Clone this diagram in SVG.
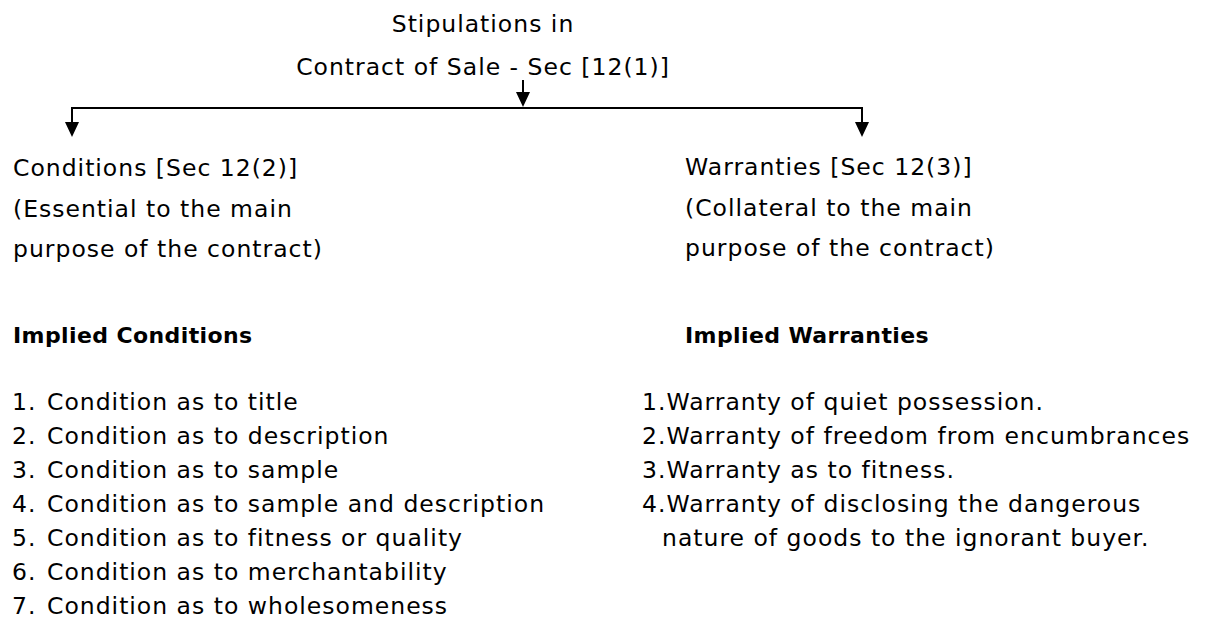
<svg xmlns="http://www.w3.org/2000/svg" width="1213" height="622" viewBox="0 0 1213 622">
<style>
text { font-family: "DejaVu Sans", "Liberation Sans", sans-serif; font-size: 23.5px; letter-spacing: 1px; fill: #000; }
.b { font-weight: bold; font-size: 22px; letter-spacing: 0.4px; }
.ln { stroke: #000; stroke-width: 2; fill: none; }
.hd { fill: #000; }
</style>
<rect width="1213" height="622" fill="#fff"/>
<g id="root">
<text x="483" y="32" text-anchor="middle">Stipulations in</text>
<text x="483" y="75" text-anchor="middle">Contract of Sale - Sec [12(1)]</text>
</g>
<g id="connectors">
<line class="ln" x1="523" y1="80" x2="523" y2="93"/>
<polygon class="hd" points="516,92 530,92 523,107"/>
<polyline class="ln" points="72,123 72,108 862,108 862,123"/>
<polygon class="hd" points="65,122 79,122 72,137"/>
<polygon class="hd" points="855,122 869,122 862,137"/>
</g>
<g id="conditions">
<text x="13" y="176">Conditions [Sec 12(2)]</text>
<text x="13" y="216.5">(Essential to the main</text>
<text x="13" y="257">purpose of the contract)</text>
</g>
<g id="warranties">
<text x="685" y="175">Warranties [Sec 12(3)]</text>
<text x="685" y="215.5">(Collateral to the main</text>
<text x="685" y="256">purpose of the contract)</text>
</g>
<g id="implied-conditions">
<text class="b" x="13" y="343">Implied Conditions</text>
<text x="12" y="410">1.</text><text x="47" y="410">Condition as to title</text>
<text x="12" y="444">2.</text><text x="47" y="444">Condition as to description</text>
<text x="12" y="478">3.</text><text x="47" y="478">Condition as to sample</text>
<text x="12" y="512">4.</text><text x="47" y="512">Condition as to sample and description</text>
<text x="12" y="546">5.</text><text x="47" y="546">Condition as to fitness or quality</text>
<text x="12" y="580">6.</text><text x="47" y="580">Condition as to merchantability</text>
<text x="12" y="614">7.</text><text x="47" y="614">Condition as to wholesomeness</text>
</g>
<g id="implied-warranties">
<text class="b" x="685" y="343">Implied Warranties</text>
<text x="642" y="410">1.Warranty of quiet possession.</text>
<text x="642" y="444">2.Warranty of freedom from encumbrances</text>
<text x="642" y="478">3.Warranty as to fitness.</text>
<text x="642" y="512">4.Warranty of disclosing the dangerous</text>
<text x="662" y="546">nature of goods to the ignorant buyer.</text>
</g>
</svg>
